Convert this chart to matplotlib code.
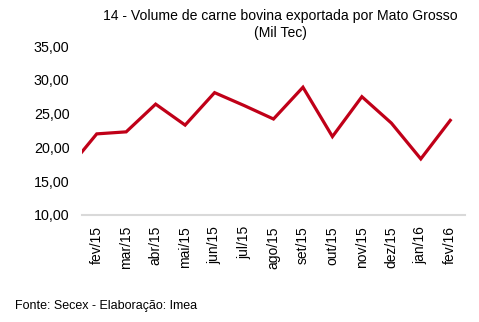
import matplotlib
matplotlib.use("Agg")
import matplotlib.pyplot as plt

plt.rcParams['font.family'] = ['Liberation Sans', 'DejaVu Sans']

categories = ["jan/15", "fev/15", "mar/15", "abr/15", "mai/15", "jun/15", "jul/15",
              "ago/15", "set/15", "out/15", "nov/15", "dez/15", "jan/16", "fev/16"]
values = [16.7, 22.0, 22.3, 26.4, 23.3, 28.1, 26.2, 24.2, 28.9, 21.6, 27.5, 23.6, 18.3, 24.0]
yticks = [10, 15, 20, 25, 30, 35]

fig = plt.figure(figsize=(4.79, 3.22), dpi=100)
ax = fig.add_axes([82/479, 1-215/322, (465-82)/479, (215-46)/322])

x = list(range(len(categories)))
ax.plot(x, values, color='#C00018', linewidth=2.3, solid_joinstyle='miter')
ax.set_xlim(0.5, len(categories) - 0.5)
ax.set_ylim(10, 35)
ax.set_xticks(x[1:])
ax.set_xticklabels(categories[1:], rotation=90, fontsize=10)
ax.set_yticks(yticks)
ax.set_yticklabels([f"{v:.2f}".replace('.', ',') for v in yticks], fontsize=10.3)
ax.tick_params(axis='y', length=0, pad=9)
ax.tick_params(axis='x', length=0, pad=8)
for s in ['top', 'right', 'left']:
    ax.spines[s].set_visible(False)
ax.spines['bottom'].set_color('#d9d9d9')
ax.spines['bottom'].set_linewidth(1.5)
ax.spines['bottom'].set_zorder(0)

fig.text(280/479, 1-16/322, "14 - Volume de carne bovina exportada por Mato Grosso",
         ha='center', va='center', fontsize=10.1)
fig.text(280/479, 1-33/322, "(Mil Tec)", ha='center', va='center', fontsize=10.1)
fig.text(15/479, 1-306/322, "Fonte: Secex - Elaboração: Imea", ha='left', va='center', fontsize=9)

fig.savefig("out.png", dpi=100)
